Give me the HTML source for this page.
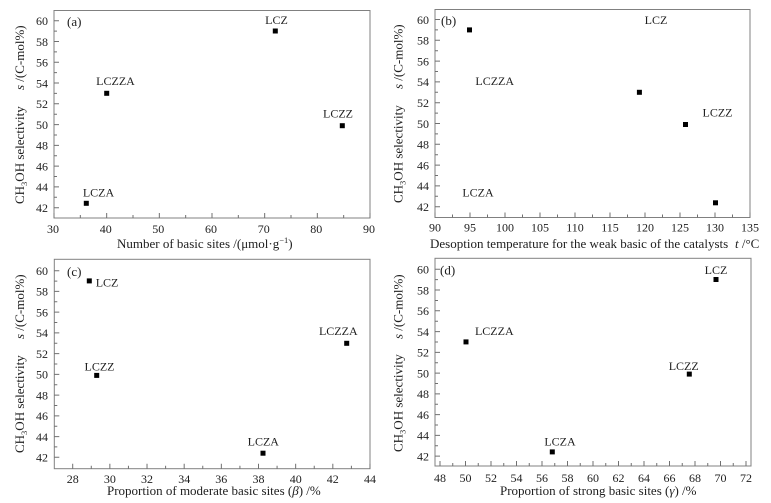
<!DOCTYPE html>
<html>
<head>
<meta charset="utf-8">
<style>
html,body{margin:0;padding:0;background:#fff;}
svg{display:block;}
text{font-family:"Liberation Serif","DejaVu Serif",serif;fill:#1e1e1e;}
.t{font-size:12px;}
.ti{font-size:13px;}
.fr{fill:none;stroke:#808080;stroke-width:1;}
.tk{fill:none;stroke:#707070;stroke-width:1;}
.mk{fill:#000;}
</style>
</head>
<body>
<svg width="771" height="503" viewBox="0 0 771 503" xmlns="http://www.w3.org/2000/svg">

<!-- ================= Panel (a) ================= -->
<rect class="fr" x="54" y="10.5" width="316" height="207.5"/>
<path class="tk" d="M54 218V213M106.67 218V213M159.33 218V213M212 218V213M264.67 218V213M317.33 218V213M370 218V213
M80.33 218V215M133 218V215M185.67 218V215M238.33 218V215M291 218V215M343.67 218V215
M54 20.7H59M54 41.48H59M54 62.26H59M54 83.03H59M54 103.81H59M54 124.59H59M54 145.37H59M54 166.14H59M54 186.92H59M54 207.7H59
M54 31.09H57M54 51.87H57M54 72.65H57M54 93.42H57M54 114.2H57M54 134.98H57M54 155.76H57M54 176.53H57M54 197.31H57"/>
<g class="t" text-anchor="end">
<text x="48" y="25">60</text><text x="48" y="45.8">58</text><text x="48" y="66.6">56</text><text x="48" y="87.3">54</text><text x="48" y="108.1">52</text><text x="48" y="128.9">50</text><text x="48" y="149.7">48</text><text x="48" y="170.4">46</text><text x="48" y="191.2">44</text><text x="48" y="212">42</text>
</g>
<g class="t" text-anchor="middle">
<text x="53" y="233">30</text><text x="105.7" y="233">40</text><text x="158.3" y="233">50</text><text x="211" y="233">60</text><text x="263.7" y="233">70</text><text x="316.3" y="233">80</text><text x="369" y="233">90</text>
</g>
<text class="ti" x="117" y="248">Number of basic sites /(μmol·g<tspan dy="-5" font-size="8.5">−1</tspan><tspan dy="5">)</tspan></text>
<g transform="translate(24,204) rotate(-90)"><text class="ti" x="0" y="0">CH<tspan dy="3" font-size="8.5">3</tspan><tspan dy="-3">OH selectivity</tspan></text></g>
<g transform="translate(24,90) rotate(-90)"><text class="ti" x="0" y="0"><tspan font-style="italic">s</tspan> /(C-mol%)</text></g>
<text class="ti" x="67" y="26">(a)</text>
<rect class="mk" x="272.8" y="28.5" width="5" height="5"/>
<rect class="mk" x="104.2" y="90.8" width="5" height="5"/>
<rect class="mk" x="339.8" y="123.2" width="5" height="5"/>
<rect class="mk" x="83.8" y="200.8" width="5" height="5"/>
<g class="t" text-anchor="middle">
<text x="276.5" y="24">LCZ</text>
<text x="115.5" y="85">LCZZA</text>
<text x="338" y="117.3">LCZZ</text>
<text x="98.5" y="196.7">LCZA</text>
</g>

<!-- ================= Panel (b) ================= -->
<rect class="fr" x="435" y="9.5" width="315" height="208"/>
<path class="tk" d="M435 217.5V212.5M470 217.5V212.5M505 217.5V212.5M540 217.5V212.5M575 217.5V212.5M610 217.5V212.5M645 217.5V212.5M680 217.5V212.5M715 217.5V212.5M750 217.5V212.5
M452.5 217.5V214.5M487.5 217.5V214.5M522.5 217.5V214.5M557.5 217.5V214.5M592.5 217.5V214.5M627.5 217.5V214.5M662.5 217.5V214.5M697.5 217.5V214.5M732.5 217.5V214.5
M435 19.5H440M435 40.3H440M435 61.1H440M435 81.9H440M435 102.7H440M435 123.5H440M435 144.3H440M435 165.1H440M435 185.9H440M435 206.7H440
M435 29.9H438M435 50.7H438M435 71.5H438M435 92.3H438M435 113.1H438M435 133.9H438M435 154.7H438M435 175.5H438M435 196.3H438"/>
<g class="t" text-anchor="end">
<text x="429" y="23.8">60</text><text x="429" y="44.6">58</text><text x="429" y="65.4">56</text><text x="429" y="86.2">54</text><text x="429" y="107">52</text><text x="429" y="127.8">50</text><text x="429" y="148.6">48</text><text x="429" y="169.4">46</text><text x="429" y="190.2">44</text><text x="429" y="211">42</text>
</g>
<g class="t" text-anchor="middle">
<text x="435" y="231.5">90</text><text x="470" y="231.5">95</text><text x="505" y="231.5">100</text><text x="540" y="231.5">105</text><text x="575" y="231.5">110</text><text x="610" y="231.5">115</text><text x="645" y="231.5">120</text><text x="680" y="231.5">125</text><text x="715" y="231.5">130</text><text x="750" y="231.5">135</text>
</g>
<text class="ti" x="430" y="248">Desoption temperature for the weak basic of the catalysts</text>
<text class="ti" x="735" y="248"><tspan font-style="italic">t</tspan> /°C</text>
<g transform="translate(402.5,203) rotate(-90)"><text class="ti" x="0" y="0">CH<tspan dy="3" font-size="8.5">3</tspan><tspan dy="-3">OH selectivity</tspan></text></g>
<g transform="translate(402.5,89) rotate(-90)"><text class="ti" x="0" y="0"><tspan font-style="italic">s</tspan> /(C-mol%)</text></g>
<text class="ti" x="441" y="25">(b)</text>
<rect class="mk" x="467" y="27.4" width="5" height="5"/>
<rect class="mk" x="636.9" y="89.8" width="5" height="5"/>
<rect class="mk" x="683" y="122" width="5" height="5"/>
<rect class="mk" x="713" y="200.3" width="5" height="5"/>
<g class="t" text-anchor="middle">
<text x="656" y="24">LCZ</text>
<text x="494.7" y="85">LCZZA</text>
<text x="717.5" y="116.7">LCZZ</text>
<text x="478" y="196.7">LCZA</text>
</g>

<!-- ================= Panel (c) ================= -->
<rect class="fr" x="54.3" y="259.3" width="315.7" height="209.4"/>
<path class="tk" d="M72.7 468.7V463.7M109.86 468.7V463.7M147.02 468.7V463.7M184.18 468.7V463.7M221.34 468.7V463.7M258.5 468.7V463.7M295.66 468.7V463.7M332.82 468.7V463.7M369.98 468.7V463.7
M91.28 468.7V465.7M128.44 468.7V465.7M165.6 468.7V465.7M202.76 468.7V465.7M239.92 468.7V465.7M277.08 468.7V465.7M314.24 468.7V465.7M351.4 468.7V465.7
M54.3 270.7H59.3M54.3 291.43H59.3M54.3 312.17H59.3M54.3 332.9H59.3M54.3 353.63H59.3M54.3 374.37H59.3M54.3 395.1H59.3M54.3 415.83H59.3M54.3 436.57H59.3M54.3 457.3H59.3
M54.3 281.07H57.3M54.3 301.8H57.3M54.3 322.53H57.3M54.3 343.27H57.3M54.3 364H57.3M54.3 384.73H57.3M54.3 405.47H57.3M54.3 426.2H57.3M54.3 446.93H57.3"/>
<g class="t" text-anchor="end">
<text x="48" y="275">60</text><text x="48" y="295.7">58</text><text x="48" y="316.5">56</text><text x="48" y="337.2">54</text><text x="48" y="357.9">52</text><text x="48" y="378.7">50</text><text x="48" y="399.4">48</text><text x="48" y="420.1">46</text><text x="48" y="440.9">44</text><text x="48" y="461.6">42</text>
</g>
<g class="t" text-anchor="middle">
<text x="72.7" y="483">28</text><text x="109.9" y="483">30</text><text x="147" y="483">32</text><text x="184.2" y="483">34</text><text x="221.3" y="483">36</text><text x="258.5" y="483">38</text><text x="295.7" y="483">40</text><text x="332.8" y="483">42</text><text x="370" y="483">44</text>
</g>
<text class="ti" x="107" y="495">Proportion of moderate basic sites (<tspan font-style="italic">β</tspan>) /%</text>
<g transform="translate(24,453) rotate(-90)"><text class="ti" x="0" y="0">CH<tspan dy="3" font-size="8.5">3</tspan><tspan dy="-3">OH selectivity</tspan></text></g>
<g transform="translate(24,339) rotate(-90)"><text class="ti" x="0" y="0"><tspan font-style="italic">s</tspan> /(C-mol%)</text></g>
<text class="ti" x="67" y="276">(c)</text>
<rect class="mk" x="86.8" y="278.4" width="5" height="5"/>
<rect class="mk" x="344.2" y="340.8" width="5" height="5"/>
<rect class="mk" x="94.2" y="372.9" width="5" height="5"/>
<rect class="mk" x="260.5" y="450.7" width="5" height="5"/>
<g class="t">
<text x="95.7" y="286.7">LCZ</text>
<text x="338.3" y="335" text-anchor="middle">LCZZA</text>
<text x="99.5" y="370.7" text-anchor="middle">LCZZ</text>
<text x="263.3" y="445.7" text-anchor="middle">LCZA</text>
</g>

<!-- ================= Panel (d) ================= -->
<rect class="fr" x="435" y="258.3" width="316" height="207.7"/>
<path class="tk" d="M440 466V461M465.5 466V461M491 466V461M516.5 466V461M542 466V461M567.5 466V461M593 466V461M618.5 466V461M644 466V461M669.5 466V461M695 466V461M720.5 466V461M746 466V461
M452.75 466V463M478.25 466V463M503.75 466V463M529.25 466V463M554.75 466V463M580.25 466V463M605.75 466V463M631.25 466V463M656.75 466V463M682.25 466V463M707.75 466V463M733.25 466V463
M435 269.3H440M435 290.06H440M435 310.81H440M435 331.57H440M435 352.32H440M435 373.08H440M435 393.84H440M435 414.59H440M435 435.35H440M435 456.1H440
M435 279.68H438M435 300.44H438M435 321.19H438M435 341.95H438M435 362.7H438M435 383.46H438M435 404.22H438M435 424.97H438M435 445.73H438"/>
<g class="t" text-anchor="end">
<text x="429" y="273.6">60</text><text x="429" y="294.4">58</text><text x="429" y="315.1">56</text><text x="429" y="335.9">54</text><text x="429" y="356.6">52</text><text x="429" y="377.4">50</text><text x="429" y="398.1">48</text><text x="429" y="418.9">46</text><text x="429" y="439.6">44</text><text x="429" y="460.4">42</text>
</g>
<g class="t" text-anchor="middle">
<text x="440" y="482">48</text><text x="465.5" y="482">50</text><text x="491" y="482">52</text><text x="516.5" y="482">54</text><text x="542" y="482">56</text><text x="567.5" y="482">58</text><text x="593" y="482">60</text><text x="618.5" y="482">62</text><text x="644" y="482">64</text><text x="669.5" y="482">66</text><text x="695" y="482">68</text><text x="720.5" y="482">70</text><text x="746" y="482">72</text>
</g>
<text class="ti" x="500" y="495">Proportion of strong basic sites (<tspan font-style="italic">γ</tspan>) /%</text>
<g transform="translate(402.5,452) rotate(-90)"><text class="ti" x="0" y="0">CH<tspan dy="3" font-size="8.5">3</tspan><tspan dy="-3">OH selectivity</tspan></text></g>
<g transform="translate(402.5,339) rotate(-90)"><text class="ti" x="0" y="0"><tspan font-style="italic">s</tspan> /(C-mol%)</text></g>
<text class="ti" x="440" y="274.5">(d)</text>
<rect class="mk" x="713.5" y="277" width="5" height="5"/>
<rect class="mk" x="463.5" y="339.4" width="5" height="5"/>
<rect class="mk" x="686.8" y="371.6" width="5" height="5"/>
<rect class="mk" x="549.8" y="449.4" width="5" height="5"/>
<g class="t" text-anchor="middle">
<text x="716" y="274">LCZ</text>
<text x="494.3" y="335">LCZZA</text>
<text x="683.7" y="370">LCZZ</text>
<text x="560" y="445.7">LCZA</text>
</g>

</svg>
</body>
</html>
